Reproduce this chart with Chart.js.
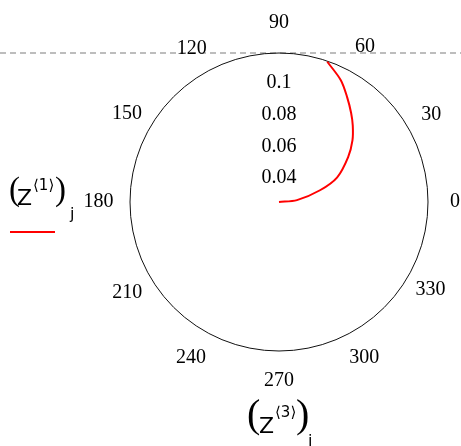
<!DOCTYPE html>
<html><head><meta charset="utf-8">
<script src="https://cdn.jsdelivr.net/npm/chart.js@4/dist/chart.umd.min.js"></script>
<style>
html,body{margin:0;padding:0;background:#fff;overflow:hidden;width:461px;height:446px}
#wrap{position:relative;width:461px;height:446px;overflow:hidden}
#dash{position:absolute;left:0;top:52px;width:461px;height:2px;background:repeating-linear-gradient(to right,#bdbdbd 0 6px,rgba(255,255,255,0) 6px 10px);z-index:0}
canvas{position:absolute;left:0;top:0;z-index:1}
.g{position:absolute;z-index:2;line-height:1;white-space:nowrap;color:#000}
.paren{font-family:'Liberation Serif',serif}
.var{font-family:'DejaVu Sans',sans-serif}
.sup{font-family:'DejaVu Sans',sans-serif}
#key{position:absolute;left:10px;top:231px;width:45px;height:2px;background:#ff0000;z-index:2}
</style>
</head><body>
<div id="wrap">
  <div id="dash"></div>
  <canvas id="c" width="470" height="446"></canvas>
  <!-- legend expression -->
  <span class="g paren" style="left:9px;top:173px;font-size:33px">(</span>
  <span class="g var" style="left:17px;top:187px;font-size:22px">Z</span>
  <span class="g sup" style="left:33px;top:178px;font-size:15px">⟨1⟩</span>
  <span class="g paren" style="left:55px;top:173px;font-size:33px">)</span>
  <span class="g var" style="left:70px;top:206px;font-size:16px">j</span>
  <div id="key"></div>
  <!-- axis expression -->
  <span class="g paren" style="left:247px;top:394px;font-size:40px">(</span>
  <span class="g var" style="left:259px;top:415px;font-size:22px">Z</span>
  <span class="g sup" style="left:275px;top:405px;font-size:15px">⟨3⟩</span>
  <span class="g paren" style="left:296px;top:394px;font-size:40px">)</span>
  <span class="g var" style="left:308px;top:433px;font-size:16px">i</span>
</div>
<script>
// ---- data ----
const ANGLE_LABELS = ['0','30','60','90','120','150','180','210','240','270','300','330'];
const RADIAL_TICKS = [0.04, 0.06, 0.08, 0.1];
const RADIAL_TICK_LABELS = ['0.04', '0.06', '0.08', '0.1'];
const R_MIN = 0.025;
const R_MAX = 0.119;
const thetaDeg = [0, 6, 16, 23, 33, 40, 46, 51, 57, 63, 71];
const zValues  = [0.025, 0.0364, 0.0519, 0.0649, 0.0770, 0.0855, 0.0920, 0.0973, 0.1039, 0.1111, 0.1186];

// label placement tuning (style only): slot on the ring and gap from the circle
const LABEL_SLOT = {'90':0,'60':28,'30':62,'0':90,'330':119,'300':154,'270':180,'240':207,'210':240,'180':270,'150':299,'120':333};
const LABEL_GAP  = {'90':6,'60':1,'30':0,'0':10,'330':-5,'300':-1,'270':6,'240':0,'210':-3,'180':4.5,'150':-4.5,'120':-2};

// one category per degree; index 0 at top, going clockwise => math angle = 90 - index
const N = 360;
const labels = [];
for (let i = 0; i < N; i++) labels.push(String((90 - i + 360) % 360));
const series = new Array(N).fill(null);
thetaDeg.forEach((t, k) => { series[(90 - t + 360) % 360] = zValues[k]; });

const slotText = {};
ANGLE_LABELS.forEach(l => { slotText[LABEL_SLOT[l]] = l; });

const openLoop = {
  id: 'openLoop',
  afterDatasetsUpdate(chart) {
    chart.getSortedVisibleDatasetMetas().forEach(meta => {
      const line = meta.dataset;
      if (!line) return;
      line._loop = false;
      line._fullLoop = false;
      line._segments = undefined;
      line._path = undefined;
      line._pointsUpdated = false;
      line.updateControlPoints(chart.chartArea);
    });
  }
};

new Chart(document.getElementById('c'), {
  type: 'radar',
  data: {
    labels: labels,
    datasets: [{
      data: series,
      borderColor: '#ff0000',
      borderWidth: 2,
      fill: false,
      spanGaps: true,
      tension: 0.3,
      pointRadius: 0,
      pointHitRadius: 0
    }]
  },
  options: {
    responsive: false,
    animation: false,
    events: [],
    layout: { padding: { left: 75, right: 1, top: 11, bottom: 53 } },
    plugins: { legend: { display: false }, tooltip: { enabled: false } },
    scales: {
      r: {
        min: R_MIN,
        max: R_MAX,
        startAngle: 0,
        angleLines: { display: false },
        grid: {
          circular: true,
          lineWidth: 1,
          color: (ctx) => (ctx.tick && Math.abs(ctx.tick.value - R_MAX) < 1e-9) ? '#111111' : 'rgba(0,0,0,0)'
        },
        ticks: {
          stepSize: 0.02,
          showLabelBackdrop: false,
          color: '#000',
          font: { family: 'Liberation Serif', size: 20 },
          callback: (v) => {
            const k = RADIAL_TICKS.findIndex(t => Math.abs(t - v) < 1e-9);
            return k >= 0 ? RADIAL_TICK_LABELS[k] : '';
          }
        },
        pointLabels: {
          color: '#000',
          padding: (ctx) => {
            const t = slotText[ctx.index];
            return t === undefined ? 0 : LABEL_GAP[t];
          },
          font: { family: 'Liberation Serif', size: 20 },
          callback: (label, index) => slotText[index] !== undefined ? slotText[index] : ''
        }
      }
    }
  },
  plugins: [openLoop]
});
</script>
</body></html>
